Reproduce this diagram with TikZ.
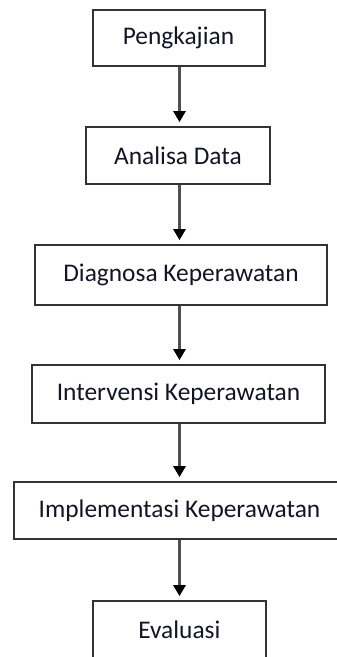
\documentclass[tikz,border=0pt]{standalone}
\usepackage{fontspec}
\setmainfont{Carlito}
\usetikzlibrary{arrows.meta}
\definecolor{boxline}{HTML}{333333}
\definecolor{arrline}{HTML}{505050}
\definecolor{txt}{HTML}{141428}
\begin{document}
\begin{tikzpicture}[x=1pt,y=1pt,
  stepbox/.style={draw=boxline, line width=2pt, fill=white, inner sep=0pt,
    font=\fontsize{25.4}{30}\selectfont, text=txt, anchor=center},
  flow/.style={draw=arrline, line width=2.5pt, shorten >=4pt,
    -{Triangle[width=13pt,length=11pt,color=black,fill=black,line width=0pt]}}]
\useasboundingbox (0,0) rectangle (337,-657);
\coordinate (ax) at (179.5,0);
\node[stepbox, minimum width=172pt, minimum height=56pt] (b1) at (178.5,-38) {Pengkajian};
\node[stepbox, minimum width=184pt, minimum height=57pt] (b2) at (178,-155.5) {Analisa Data};
\node[stepbox, minimum width=292pt, minimum height=60pt] (b3) at (181,-275) {Diagnosa Keperawatan};
\node[stepbox, minimum width=293pt, minimum height=58pt] (b4) at (178.5,-394) {Intervensi Keperawatan};
\node[stepbox, minimum width=331pt, minimum height=57pt] (b5) at (179.5,-510.5) {Implementasi Keperawatan};
\node[stepbox, minimum width=173pt, minimum height=57pt] (b6) at (179.4,-629.5) {Evaluasi};
\draw[flow] (b1.south -| ax) -- (b2.north -| ax);
\draw[flow] (b2.south -| ax) -- (b3.north -| ax);
\draw[flow] (b3.south -| ax) -- (b4.north -| ax);
\draw[flow] (b4.south -| ax) -- (b5.north -| ax);
\draw[flow] (b5.south -| ax) -- (b6.north -| ax);
\end{tikzpicture}
\end{document}
